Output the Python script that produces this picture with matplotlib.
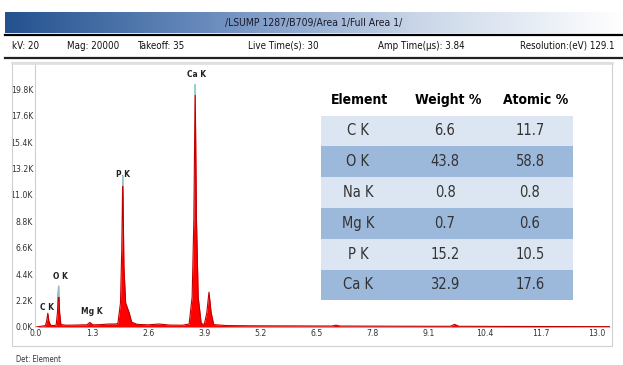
import numpy as np
import matplotlib.pyplot as plt
from matplotlib.colors import LinearSegmentedColormap
from matplotlib.lines import Line2D
from matplotlib.patches import Rectangle

# spectrum outline (keV, counts in thousands)
energy = [0.00, 0.10, 0.18, 0.22, 0.25, 0.277, 0.30, 0.34, 0.40, 0.47, 0.50, 0.525,
          0.55, 0.58, 0.70, 0.90, 1.10, 1.18, 1.25, 1.32, 1.50, 1.70, 1.85, 1.90,
          1.96, 1.99, 2.013, 2.04, 2.08, 2.12, 2.16, 2.22, 2.35, 2.60, 2.85, 3.10,
          3.40, 3.55, 3.62, 3.66, 3.69, 3.72, 3.76, 3.83, 3.90, 3.96, 4.01, 4.06,
          4.12, 4.40, 5.00, 6.00, 6.85, 6.95, 7.05, 8.00, 9.00, 9.60, 9.70, 9.80,
          10.50, 11.70, 13.30]
counts = [0.0, 0.05, 0.10, 0.10, 0.50, 1.15, 0.50, 0.15, 0.12, 0.15, 1.20, 3.40,
          1.20, 0.20, 0.15, 0.16, 0.18, 0.18, 0.38, 0.18, 0.20, 0.25, 0.25, 0.30,
          2.00, 6.50, 12.60, 5.00, 2.00, 1.60, 1.20, 0.40, 0.22, 0.18, 0.25, 0.16,
          0.15, 0.25, 2.50, 9.00, 20.20, 9.00, 2.50, 0.30, 0.20, 1.20, 2.90, 1.20,
          0.20, 0.12, 0.10, 0.09, 0.08, 0.15, 0.08, 0.07, 0.06, 0.06, 0.22, 0.06,
          0.05, 0.04, 0.03]

# peak labels: where the tip is, and where the label text sits
peak_names = ["C K", "O K", "Mg K", "P K", "Ca K"]
peak_energy = [0.277, 0.525, 1.25, 2.013, 3.69]
peak_counts = [1.15, 3.40, 0.38, 12.60, 20.20]
label_energy = [0.25, 0.56, 1.30, 2.02, 3.73]
label_counts = [1.6, 4.2, 1.25, 12.7, 21.0]
tip_peaks = [1, 3, 4]  # peaks whose tips show cyan

x_ticks = [0.0, 1.3, 2.6, 3.9, 5.2, 6.5, 7.8, 9.1, 10.4, 11.7, 13.0]
y_ticks = [0.0, 2.2, 4.4, 6.6, 8.8, 11.0, 13.2, 15.4, 17.6, 19.8]

elements = ["C K", "O K", "Na K", "Mg K", "P K", "Ca K"]
weight_pct = [6.6, 43.8, 0.8, 0.7, 15.2, 32.9]
atomic_pct = [11.7, 58.8, 0.8, 0.6, 10.5, 17.6]
table_cols = ["Element", "Weight %", "Atomic %"]

title = "/LSUMP 1287/B709/Area 1/Full Area 1/"
info_items = ["kV: 20", "Mag: 20000", "Takeoff: 35", "Live Time(s): 30",
              "Amp Time(\u00b5s): 3.84", "Resolution:(eV) 129.1"]
info_x = [12, 67, 137, 248, 378, 520]

fnt = dict(family="DejaVu Sans", stretch="condensed")
W, H = 623, 365

fig = plt.figure(figsize=(W / 100, H / 100), dpi=100)

# spectrum panel
ax = fig.add_axes([35 / W, (H - 327) / H, (610 - 35) / W, (327 - 64) / H])
ax.fill_between(energy, counts, color="#ff0000", lw=0)
ax.plot(energy, counts, color="#c00000", lw=0.8)
for i in tip_peaks:
    ax.plot([peak_energy[i], peak_energy[i]], [peak_counts[i] - 0.9, peak_counts[i]],
            color="#8fe3ea", lw=1.2, solid_capstyle="butt")
for name, e, c in zip(peak_names, label_energy, label_counts):
    ax.text(e, c, name, ha="center", va="center", fontsize=6, fontweight="bold",
            color="#222222", **fnt)
ax.set_xlim(-0.02, 13.3)
ax.set_ylim(0, 21.9)
ax.set_xticks(x_ticks)
ax.set_xticklabels([f"{v:.1f}" for v in x_ticks])
ax.set_yticks(y_ticks)
ax.set_yticklabels([f"{v:.1f}K" for v in y_ticks])
ax.tick_params(length=0, labelsize=6.2, colors="#333333", pad=1.5)
for lab in ax.get_xticklabels() + ax.get_yticklabels():
    lab.set_family(fnt["family"])
    lab.set_stretch("condensed")
for s in ["top", "right", "bottom"]:
    ax.spines[s].set_visible(False)
ax.spines["left"].set_color("#cfcfcf")
ax.spines["left"].set_linewidth(0.8)

# overlay in pixel coordinates for header, frame and table
ov = fig.add_axes([0, 0, 1, 1], zorder=5)
ov.set_xlim(0, W)
ov.set_ylim(H, 0)
ov.axis("off")
ov.patch.set_alpha(0)

cmap = LinearSegmentedColormap.from_list("bar", ["#24528f", "#6a8cbd", "#c9d6e8", "#ffffff"])
grad = np.linspace(0, 1, 256).reshape(1, -1)
ov.imshow(grad, cmap=cmap, aspect="auto", extent=[5, 623, 33, 12])
ov.text(314, 23, title, ha="center", va="center", fontsize=7.5, color="#1a1a2a", **fnt)
ov.add_line(Line2D([5, 623], [34.5, 34.5], color="black", lw=1.6))
ov.add_line(Line2D([5, 623], [57.5, 57.5], color="#222222", lw=1.6))
for txt, x in zip(info_items, info_x):
    ov.text(x, 46, txt, ha="left", va="center", fontsize=7, color="#111111", **fnt)

# panel frame
ov.add_patch(Rectangle((12, 62), 600, 284, fill=False, ec="#d0d0d0", lw=0.8))
ov.add_line(Line2D([12, 612], [63, 63], color="#e0e0e0", lw=2))
ov.text(16, 360, "Det: Element", ha="left", va="center", fontsize=5.5, color="#333333", **fnt)

# composition table
col_x = [360, 448, 536]
for txt, x in zip(table_cols, col_x):
    ov.text(x, 100, txt, ha="center", va="center", fontsize=10, fontweight="bold",
            color="black", **fnt)
row_top, row_h = 115.5, 30.8
for i, (el, w, a) in enumerate(zip(elements, weight_pct, atomic_pct)):
    y0 = row_top + i * row_h
    ov.add_patch(Rectangle((321, y0), 252, row_h, color="#dce6f2" if i % 2 == 0 else "#9cb8da", lw=0))
    yc = y0 + row_h / 2
    for txt, x in zip([el, f"{w}", f"{a}"], [col_x[0] - 2, col_x[1] - 3, col_x[2] - 6]):
        ov.text(x, yc, txt, ha="center", va="center", fontsize=10.5, color="#333333", **fnt)

fig.savefig("out.png", dpi=100)
